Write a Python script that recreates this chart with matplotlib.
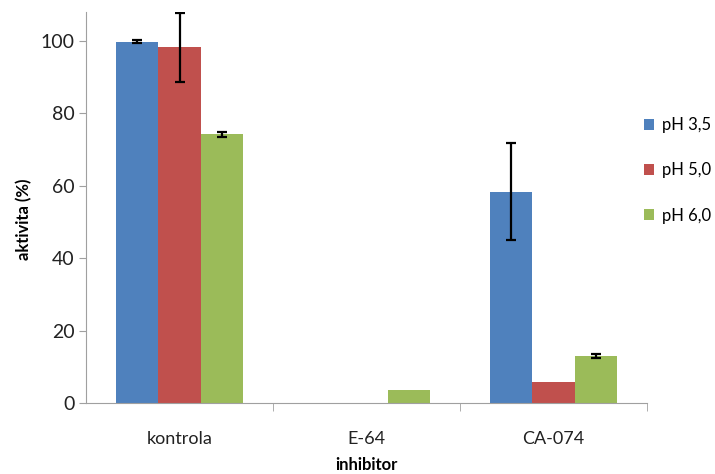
import numpy as np
import matplotlib.pyplot as plt

plt.rcParams['font.family'] = ['Lato', 'DejaVu Sans']

inhibitors = ["kontrola", "E-64", "CA-074"]
series = ["pH 3,5", "pH 5,0", "pH 6,0"]
ph35 = [99.8, 0, 58.4]
ph50 = [98.2, 0, 5.7]
ph60 = [74.2, 3.6, 12.9]
err35 = [0.4, 0, 13.4]
err50 = [9.5, 0, 0]
err60 = [0.7, 0, 0.5]
colors = ["#4F81BD", "#C0504D", "#9BBB59"]

fig = plt.figure(figsize=(7.15, 4.74), dpi=100)
ax = fig.add_axes([86/715, 1-403/474, (647-86)/715, (403-12)/474])

x = np.arange(len(inhibitors))
w = 0.225
for i, (vals, errs) in enumerate([(ph35, err35), (ph50, err50), (ph60, err60)]):
    e = [v if v > 0 else np.nan for v in errs]
    ax.bar(x + (i - 1) * w, vals, w, color=colors[i], label=series[i], zorder=2)
    ax.errorbar(x + (i - 1) * w, vals, yerr=e, fmt="none", ecolor="black",
                elinewidth=1.6, capsize=3.5, capthick=1.6, zorder=3)

ax.set_xlim(-0.5, 2.5)
ax.set_ylim(0, 108)
ax.set_yticks([0, 20, 40, 60, 80, 100])
ax.set_xticks(x)
ax.set_xticklabels(inhibitors)
ax.set_xticks([0.5, 1.5, 2.5], minor=True)
ax.tick_params(axis="x", which="major", length=0, pad=20, labelsize=13, labelcolor="#222222")
ax.tick_params(axis="x", which="minor", length=6, color="#A0A0A0")
ax.tick_params(axis="y", length=5, color="#A0A0A0", labelsize=14, labelcolor="#222222", pad=3)
for s in ["top", "right"]:
    ax.spines[s].set_visible(False)
for s in ["left", "bottom"]:
    ax.spines[s].set_color("#A0A0A0")
ax.set_ylabel("aktivita (%)", fontsize=12, fontweight="bold")
ax.yaxis.set_label_coords(-0.095, 0.47)
ax.set_xlabel("inhibitor", fontsize=12, fontweight="bold", labelpad=7)

ax.legend(loc="center left", bbox_to_anchor=(0.995, 0.595), frameon=False,
          fontsize=12, handlelength=0.6, handleheight=0.6, labelspacing=1.75,
          handletextpad=0.45, borderaxespad=0, borderpad=0)

fig.savefig("out.png", dpi=100)
